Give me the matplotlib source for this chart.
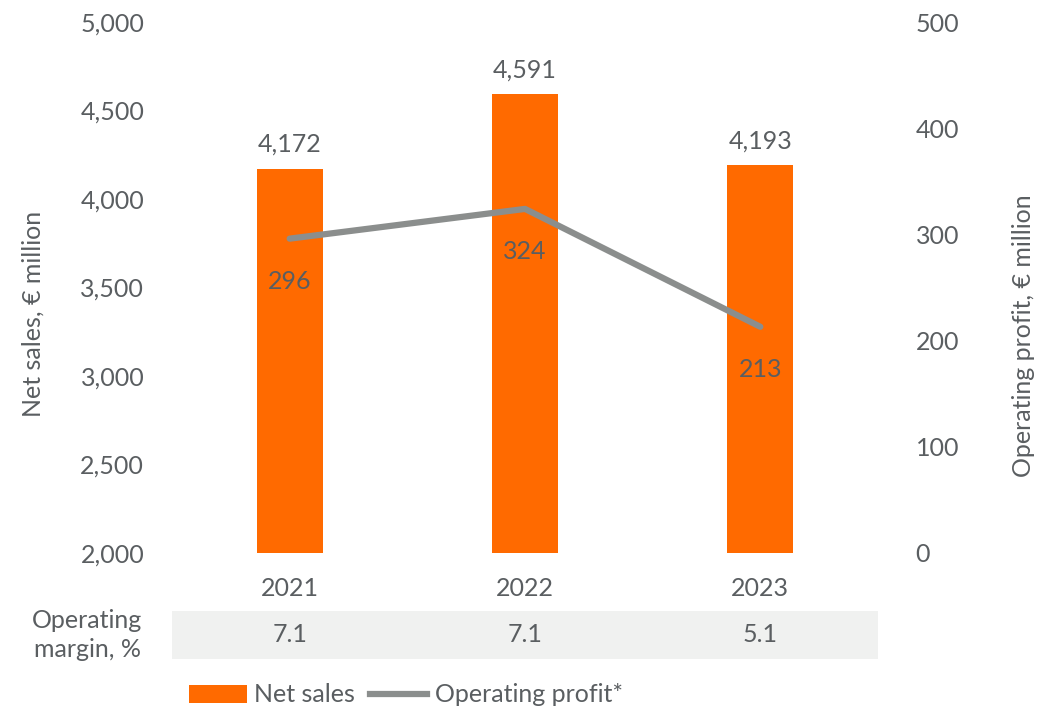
import matplotlib.pyplot as plt
from matplotlib.patches import Rectangle, Patch
from matplotlib.lines import Line2D
from matplotlib.transforms import blended_transform_factory

plt.rcParams['font.family'] = ['Lato', 'DejaVu Sans']

years = ['2021', '2022', '2023']
net_sales = [4172, 4591, 4193]
op_profit = [296, 324, 213]
op_margin = ['7.1', '7.1', '5.1']

ORANGE = '#ff6a00'
GREY = '#8b8e8d'
TEXT = '#5a5e61'
FS = 18

fig = plt.figure(figsize=(10.38, 7.11), dpi=100)
W, H = 1038, 711
ax = fig.add_axes([172 / W, 158 / H, 706 / W, 531 / H])
ax2 = ax.twinx()

x = list(range(len(years)))
ax.bar(x, net_sales, width=0.28, color=ORANGE, zorder=2)
ax.set_ylim(2000, 5000)
ax.set_xlim(-0.5, 2.5)
ax.set_yticks(range(2000, 5001, 500))
ax.set_yticklabels([f'{v:,}' for v in range(2000, 5001, 500)])
ax.set_xticks(x)
ax.set_xticklabels(years)
ax.tick_params(axis='y', length=0, pad=20, labelsize=FS, labelcolor=TEXT)
ax.tick_params(axis='x', length=0, pad=17, labelsize=FS, labelcolor=TEXT)
ax.set_ylabel('Net sales, € million', fontsize=FS, color=TEXT, labelpad=26)
ax.yaxis.label.set_y(0.45)

for xi, v in zip(x, net_sales):
    ax.annotate(f'{v:,}', (xi, v), xytext=(0, 9), textcoords='offset points',
                ha='center', va='bottom', fontsize=FS, color=TEXT)

ax2.plot(x, op_profit, color=GREY, lw=4.5, solid_capstyle='round', zorder=3)
ax2.set_ylim(0, 500)
ax2.set_yticks(range(0, 501, 100))
ax2.tick_params(axis='y', length=0, pad=27, labelsize=FS, labelcolor=TEXT)
ax2.set_ylabel('Operating profit, € million', fontsize=FS, color=TEXT, labelpad=38)
ax2.yaxis.label.set_y(0.41)

for xi, v in zip(x, op_profit):
    ax2.annotate(f'{v}', (xi, v), xytext=(0, -31), textcoords='offset points',
                 ha='center', va='center', fontsize=FS, color=TEXT)

for a in (ax, ax2):
    for s in a.spines.values():
        s.set_visible(False)

# operating margin row below the axis
tr = blended_transform_factory(ax.transData, fig.transFigure)
y0, y1 = 1 - 659 / H, 1 - 611 / H
fig.patches.append(Rectangle((-0.5, y0), 3, y1 - y0, transform=tr,
                             facecolor='#f0f1f0', edgecolor='none'))
for xi, m in zip(x, op_margin):
    fig.text(xi, (y0 + y1) / 2, m, transform=tr, ha='center', va='center',
             fontsize=FS, color=TEXT)
fig.text(87 / W, (y0 + y1) / 2, 'Operating\nmargin, %', ha='center', va='center',
         multialignment='center', fontsize=FS, color=TEXT, linespacing=1.3)

handles = [Patch(facecolor=ORANGE), Line2D([], [], color=GREY, lw=4.5)]
fig.legend(handles, ['Net sales', 'Operating profit*'], loc='center',
           bbox_to_anchor=(406 / W, 1 - 695 / H), ncol=2, frameon=False,
           fontsize=FS, labelcolor=TEXT, handlelength=2.3, handleheight=0.7,
           handletextpad=0.3, columnspacing=0.6)

fig.savefig('out.png', dpi=100)
